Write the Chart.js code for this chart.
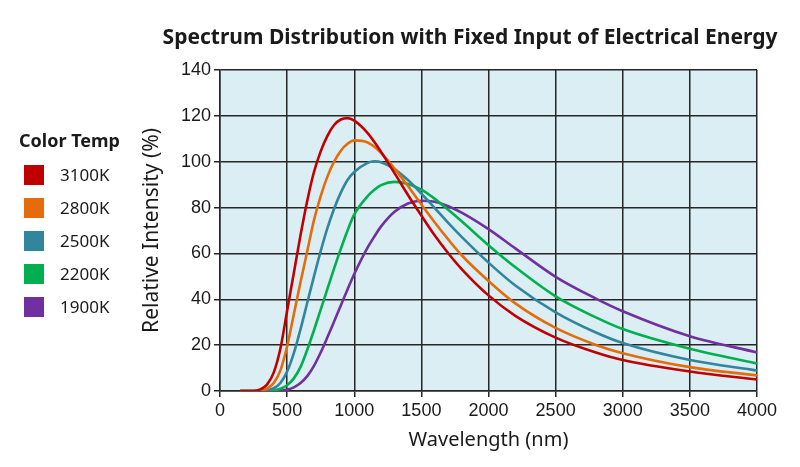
<!DOCTYPE html>
<html><head><meta charset="utf-8">
<script src="https://cdn.jsdelivr.net/npm/chart.js@4.4.1/dist/chart.umd.min.js"></script>
<style>html,body{margin:0;padding:0;background:#fff}</style>
</head><body>
<canvas id="c" width="800" height="467"></canvas>
<script>
const chartTitle = 'Spectrum Distribution with Fixed Input of Electrical Energy';
const legendTitle = 'Color Temp';
const xTitle = 'Wavelength (nm)';
const yTitle = 'Relative Intensity (%)';
const seriesLabels = ['3100K','2800K','2500K','2200K','1900K'];
const seriesColors = ['#C00000','#E46C0A','#31859C','#00B050','#7030A0'];
const wavelengths = [150,250,300,350,400,450,500,550,600,650,700,750,800,850,900,950,1000,1100,1150,1200,1300,1400,1500,1600,1700,1800,2000,2200,2500,2800,3000,3500,4000];
const temp3100 = [0,0,0.7,2.8,8,18.5,35,51.5,68,83,95.5,104.5,111.3,116,118.4,119,117.9,112.5,108.6,104.3,95,85.5,76.5,67.8,60.1,53.2,41.7,32.8,23.3,16.8,13.5,8.5,5];
const temp2800 = [0,0,0.2,1,3.5,9,19.5,33.5,47.5,61,74.5,85,93.5,100,104.8,107.8,109.3,108.4,106.5,103.8,97,89.4,81.3,73.5,66.1,59.2,48,38.2,27.5,20.1,16.5,10.4,6.8];
const temp2500 = [0,0,0,0.3,1.2,3.5,8.5,16.5,27,38.5,50,61,71,79.5,86.5,92,95.5,99.5,100.2,99.8,96.8,92,86.1,79.8,73.3,67.2,56,46,34.3,25.5,20.9,13.5,8.9];
const temp2200 = [0,0,0,0,0.3,1,2.5,5.5,10.5,18,26.5,35.5,44.5,53.5,62,70,77,85,87.8,89.8,91.2,90.3,87.8,83.8,79,74,63.6,54,41.3,32.1,27,18.4,12];
const temp1900 = [0,0,0,0,0,0.2,0.6,1.6,3.5,6.5,11,16.8,23.4,30.3,37.3,44.3,51,62.6,67.4,71.8,78.2,81.8,83,82.5,80.6,77.8,70.6,62.2,49.8,40.3,34.8,23.9,16.8];
const seriesValues = [temp3100, temp2800, temp2500, temp2200, temp1900];
const xTicks = {min:0, max:4000, step:500};
const yTicks = {min:0, max:140, step:20};

const TEXT = '#1a1a1a';
const GRID = '#262626';

const bgPlugin = {
  id:'plotBg',
  beforeDraw(chart){
    const {ctx, chartArea:{left,top,width,height}} = chart;
    ctx.save(); ctx.fillStyle='#DAEEF3'; ctx.fillRect(left,top,width,height); ctx.restore();
  }
};
const titleLegendPlugin = {
  id:'titleLegend',
  afterDraw(chart){
    const ctx = chart.ctx;
    ctx.save();
    ctx.fillStyle = TEXT;
    ctx.textBaseline = 'middle';
    ctx.textAlign = 'center';
    ctx.font = 'bold 21px "Noto Sans"';
    ctx.fillText(chartTitle, 470, 38);
    ctx.textAlign = 'left';
    ctx.font = 'bold 18px "Noto Sans"';
    ctx.fillText(legendTitle, 19, 142);
    chart.data.datasets.forEach((ds,i)=>{
      const y = 165 + i*33;
      ctx.fillStyle = ds.borderColor;
      ctx.fillRect(24, y, 20, 20);
      ctx.fillStyle = TEXT;
      ctx.font = '17px "Noto Sans"';
      ctx.fillText(ds.label, 60, y + 11);
    });
    ctx.restore();
  }
};

new Chart(document.getElementById('c'), {
  type:'line',
  data:{
    datasets: seriesLabels.map((lab,i)=>({
      label: lab,
      data: wavelengths.map((w,j)=>({x:w, y:seriesValues[i][j]})),
      borderColor: seriesColors[i],
      backgroundColor: seriesColors[i],
      borderWidth: 2.6,
      pointRadius: 0,
      fill: false,
      cubicInterpolationMode: 'monotone'
    }))
  },
  options:{
    responsive:false,
    animation:false,
    devicePixelRatio:1,
    layout:{padding:{left:130, right:43, top:70, bottom:0}},
    plugins:{legend:{display:false}, title:{display:false}, tooltip:{enabled:false}},
    scales:{
      x:{
        type:'linear', min:xTicks.min, max:xTicks.max,
        ticks:{stepSize:xTicks.step, color:TEXT, font:{family:'"Liberation Sans", Arial', size:18}, padding:3, maxRotation:0, callback:v=>String(v)},
        grid:{color:GRID, lineWidth:1.5, tickLength:6},
        border:{color:GRID, width:1.5},
        title:{display:true, text:xTitle, color:TEXT, font:{family:'"Noto Sans"', size:20}, padding:{top:0,bottom:15}},
        afterFit(s){ s.height = 76; }
      },
      y:{
        min:yTicks.min, max:yTicks.max,
        ticks:{stepSize:yTicks.step, color:TEXT, font:{family:'"Liberation Sans", Arial', size:18}, padding:3, callback:v=>String(v)},
        grid:{color:GRID, lineWidth:1.5, tickLength:6},
        border:{color:GRID, width:1.5},
        title:{display:true, text:yTitle, color:TEXT, font:{family:'"Noto Sans"', size:21}, padding:{top:9,bottom:0}},
        afterFit(s){ s.width = 90; }
      }
    }
  },
  plugins:[bgPlugin, titleLegendPlugin]
});
</script>
</body></html>
